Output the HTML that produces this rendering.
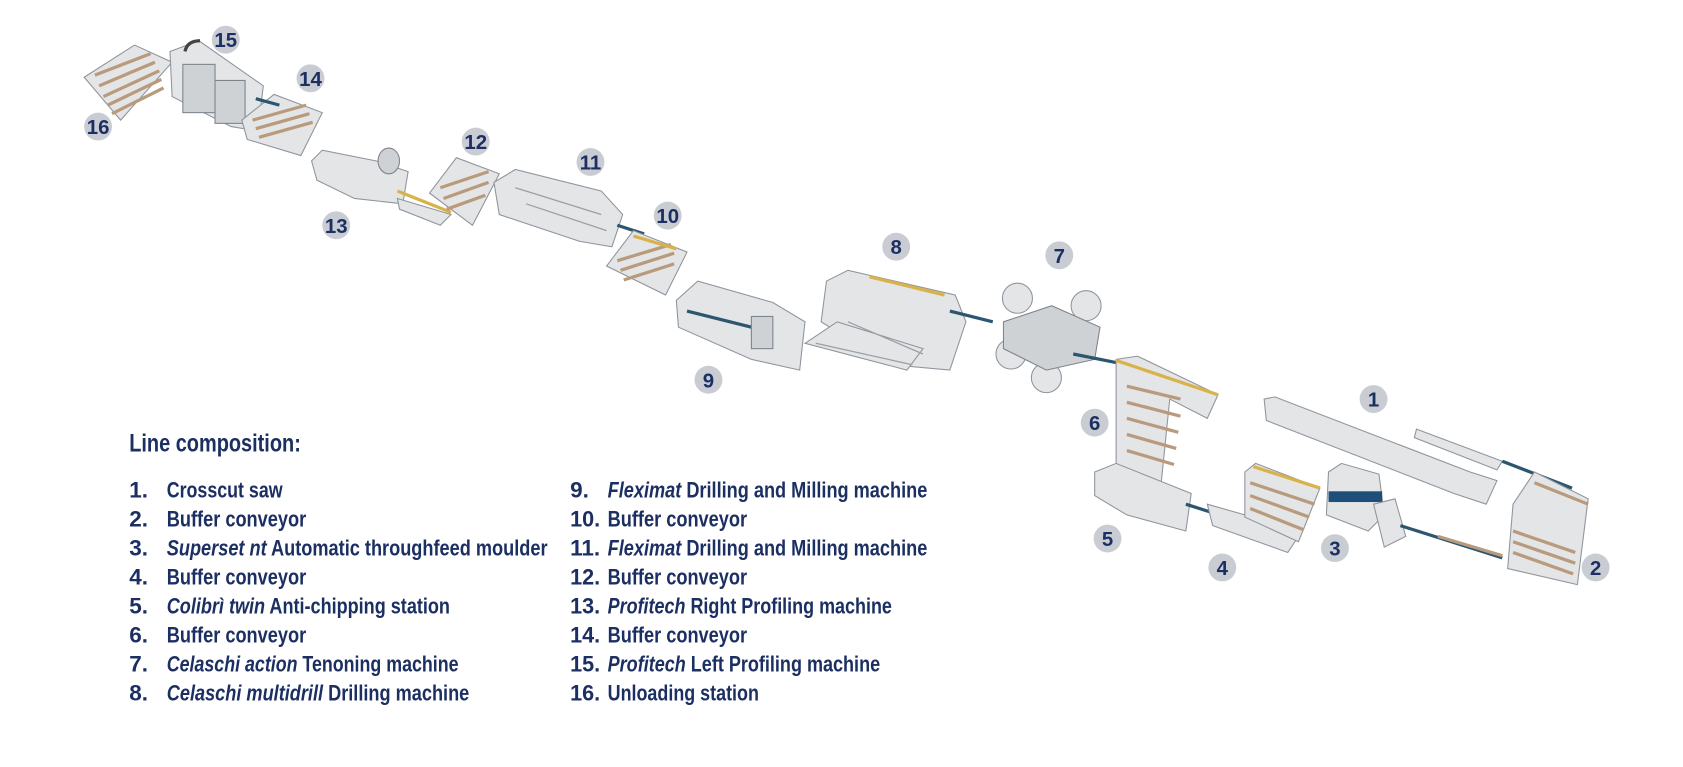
<!DOCTYPE html>
<html><head><meta charset="utf-8"><style>
html,body{margin:0;padding:0;background:#fff;width:1683px;height:767px;overflow:hidden}
svg{display:block}
.b{fill:#c9ccd2}
.n{font-family:"Liberation Sans Narrow","Liberation Sans",sans-serif;font-weight:bold;fill:#1c2f63;font-size:19px;text-anchor:middle}
.t text{font-family:"Liberation Sans",sans-serif;font-weight:bold;fill:#1c2f63;font-size:21px}
.h{font-family:"Liberation Sans",sans-serif;font-weight:bold;fill:#1c2f63;font-size:23px}
.m{fill:#e4e5e7;stroke:#8f959c;stroke-width:1}
.d{fill:#cfd2d5;stroke:#7d848c;stroke-width:1}
.s{stroke:#b89a7c;stroke-width:3}
.g{stroke:#9aa0a6;stroke-width:1.2;fill:none}
.y{stroke:#d9b24a;stroke-width:3}
.k{stroke:#2c5670;stroke-width:3}
</style></head><body>
<svg width="1683" height="767" viewBox="0 0 1568 715" xmlns="http://www.w3.org/2000/svg">
<!-- 16 -->
<polygon class="m" points="78,72 125,42 160,58 112,112"/>
<g class="s"><line x1="88" y1="70" x2="140" y2="50"/><line x1="92" y1="80" x2="144" y2="58"/><line x1="96" y1="90" x2="148" y2="66"/><line x1="100" y1="98" x2="150" y2="74"/><line x1="104" y1="106" x2="152" y2="82"/></g>
<!-- 15 -->
<polygon class="m" points="158,48 185,38 245,80 240,122 215,118 160,90"/>
<rect class="d" x="170" y="60" width="30" height="45"/><rect class="d" x="200" y="75" width="28" height="40"/>
<path d="M172 48 q2-10 14-10" class="g" style="stroke:#444;stroke-width:3"/>
<!-- 14 -->
<polygon class="m" points="225,112 255,88 300,105 280,145 230,130"/>
<g class="s"><line x1="235" y1="112" x2="285" y2="98"/><line x1="238" y1="120" x2="288" y2="106"/><line x1="241" y1="128" x2="291" y2="114"/></g>
<line class="k" x1="238" y1="92" x2="260" y2="98"/>
<!-- 13 -->
<polygon class="m" points="290,150 300,140 350,150 380,160 375,190 330,185 295,168"/>
<ellipse class="d" cx="362" cy="150" rx="10" ry="12"/>
<line class="y" x1="370" y1="178" x2="420" y2="198"/>
<polygon class="m" points="370,185 420,200 410,210 372,195"/>
<!-- 12 -->
<polygon class="m" points="400,180 425,147 465,162 440,210"/>
<g class="s"><line x1="410" y1="175" x2="455" y2="160"/><line x1="413" y1="185" x2="455" y2="170"/><line x1="416" y1="195" x2="452" y2="182"/></g>
<!-- 11 -->
<polygon class="m" points="460,170 480,158 560,178 580,200 570,230 540,225 465,200"/>
<g class="g"><line x1="480" y1="175" x2="560" y2="200"/><line x1="490" y1="190" x2="565" y2="215"/></g>
<line class="k" x1="575" y1="210" x2="600" y2="218"/>
<!-- 10 -->
<polygon class="m" points="565,248 590,215 640,235 620,275"/>
<g class="s"><line x1="575" y1="243" x2="625" y2="228"/><line x1="578" y1="252" x2="628" y2="236"/><line x1="581" y1="261" x2="628" y2="246"/></g>
<line class="y" x1="590" y1="220" x2="630" y2="232"/>
<!-- 9 -->
<polygon class="m" points="630,280 650,262 720,282 750,300 745,345 700,335 632,305"/>
<line class="k" x1="640" y1="290" x2="720" y2="310"/>
<rect class="d" x="700" y="295" width="20" height="30"/>
<!-- 8 -->
<polygon class="m" points="770,262 790,252 890,275 900,300 885,345 830,340 765,300"/>
<polygon class="m" points="750,320 780,300 860,325 845,345"/>
<g class="g"><line x1="760" y1="320" x2="850" y2="340"/><line x1="790" y1="300" x2="860" y2="330"/></g>
<line class="y" x1="810" y1="258" x2="880" y2="275"/>
<line class="k" x1="885" y1="290" x2="925" y2="300"/>
<!-- 7 -->
<circle class="m" cx="948" cy="278" r="14"/><circle class="m" cx="1012" cy="285" r="14"/>
<circle class="m" cx="942" cy="330" r="14"/><circle class="m" cx="975" cy="352" r="14"/>
<polygon class="d" points="935,300 980,285 1025,305 1020,335 975,345 935,325"/>
<!-- 6 -->
<line class="k" x1="1000" y1="330" x2="1040" y2="338"/>
<polygon class="m" points="1040,335 1060,332 1135,368 1125,390 1090,372 1080,470 1040,440"/>
<g class="s"><line x1="1050" y1="360" x2="1100" y2="372"/><line x1="1050" y1="375" x2="1100" y2="388"/><line x1="1050" y1="390" x2="1098" y2="403"/><line x1="1050" y1="405" x2="1096" y2="418"/><line x1="1050" y1="420" x2="1094" y2="433"/></g>
<line class="y" x1="1040" y1="336" x2="1135" y2="368"/>
<!-- 5 -->
<polygon class="m" points="1020,440 1040,432 1110,460 1105,495 1050,480 1020,462"/>
<!-- 4 -->
<line class="k" x1="1105" y1="470" x2="1130" y2="478"/>
<polygon class="m" points="1125,470 1160,480 1210,500 1200,515 1130,490"/>
<polygon class="m" points="1160,440 1170,432 1230,455 1210,505 1160,482"/>
<g class="s"><line x1="1165" y1="450" x2="1225" y2="470"/><line x1="1165" y1="462" x2="1220" y2="482"/><line x1="1165" y1="474" x2="1215" y2="494"/></g>
<line class="y" x1="1168" y1="435" x2="1230" y2="455"/>
<!-- 3 -->
<polygon class="m" points="1238,440 1250,432 1285,442 1290,480 1275,495 1236,480"/>
<rect x="1238" y="458" width="50" height="10" fill="#1e4e7a"/>
<polygon class="m" points="1280,470 1300,465 1310,500 1290,510"/>
<line class="k" x1="1305" y1="490" x2="1400" y2="520"/>
<line class="s" x1="1340" y1="500" x2="1400" y2="518"/>
<!-- 1 -->
<polygon class="m" points="1178,372 1188,370 1370,440 1395,448 1385,470 1355,460 1180,392"/>
<polygon class="m" points="1320,400 1400,430 1395,438 1318,408"/>
<line class="k" x1="1400" y1="430" x2="1465" y2="455"/>
<!-- 2 -->
<polygon class="m" points="1410,470 1430,440 1480,465 1470,545 1405,530"/>
<g class="s"><line x1="1410" y1="495" x2="1468" y2="515"/><line x1="1410" y1="505" x2="1468" y2="525"/><line x1="1410" y1="515" x2="1466" y2="535"/><line x1="1430" y1="450" x2="1480" y2="470"/></g>
<!-- badges -->
<g>
<circle class="b" cx="210" cy="37" r="13"/><text class="n" x="210" y="44">15</text>
<circle class="b" cx="289" cy="73" r="13"/><text class="n" x="289" y="80">14</text>
<circle class="b" cx="91" cy="118" r="13"/><text class="n" x="91" y="125">16</text>
<circle class="b" cx="443" cy="132" r="13"/><text class="n" x="443" y="139">12</text>
<circle class="b" cx="550" cy="151" r="13"/><text class="n" x="550" y="158">11</text>
<circle class="b" cx="313" cy="210" r="13"/><text class="n" x="313" y="217">13</text>
<circle class="b" cx="622" cy="201" r="13"/><text class="n" x="622" y="208">10</text>
<circle class="b" cx="835" cy="230" r="13"/><text class="n" x="835" y="237">8</text>
<circle class="b" cx="987" cy="238" r="13"/><text class="n" x="987" y="245">7</text>
<circle class="b" cx="660" cy="354" r="13"/><text class="n" x="660" y="361">9</text>
<circle class="b" cx="1280" cy="372" r="13"/><text class="n" x="1280" y="379">1</text>
<circle class="b" cx="1020" cy="394" r="13"/><text class="n" x="1020" y="401">6</text>
<circle class="b" cx="1032" cy="502" r="13"/><text class="n" x="1032" y="509">5</text>
<circle class="b" cx="1244" cy="511" r="13"/><text class="n" x="1244" y="518">3</text>
<circle class="b" cx="1139" cy="529" r="13"/><text class="n" x="1139" y="536">4</text>
<circle class="b" cx="1487" cy="529" r="13"/><text class="n" x="1487" y="536">2</text>
</g>
<!-- legend -->
<text class="h" x="120" y="421" textLength="160" lengthAdjust="spacingAndGlyphs">Line composition:</text>
<g class="t">
<text x="120" y="464">1.</text><text x="155" y="464" textLength="108" lengthAdjust="spacingAndGlyphs">Crosscut saw</text>
<text x="120" y="491">2.</text><text x="155" y="491" textLength="130" lengthAdjust="spacingAndGlyphs">Buffer conveyor</text>
<text x="120" y="518">3.</text><text x="155" y="518" textLength="355" lengthAdjust="spacingAndGlyphs"><tspan font-style="italic">Superset nt</tspan> Automatic throughfeed moulder</text>
<text x="120" y="545">4.</text><text x="155" y="545" textLength="130" lengthAdjust="spacingAndGlyphs">Buffer conveyor</text>
<text x="120" y="572">5.</text><text x="155" y="572" textLength="264" lengthAdjust="spacingAndGlyphs"><tspan font-style="italic">Colibrì twin</tspan> Anti-chipping station</text>
<text x="120" y="599">6.</text><text x="155" y="599" textLength="130" lengthAdjust="spacingAndGlyphs">Buffer conveyor</text>
<text x="120" y="626">7.</text><text x="155" y="626" textLength="272" lengthAdjust="spacingAndGlyphs"><tspan font-style="italic">Celaschi action</tspan> Tenoning machine</text>
<text x="120" y="653">8.</text><text x="155" y="653" textLength="282" lengthAdjust="spacingAndGlyphs"><tspan font-style="italic">Celaschi multidrill</tspan> Drilling machine</text>
<text x="531" y="464">9.</text><text x="566" y="464" textLength="298" lengthAdjust="spacingAndGlyphs"><tspan font-style="italic">Fleximat</tspan> Drilling and Milling machine</text>
<text x="531" y="491" textLength="28" lengthAdjust="spacingAndGlyphs">10.</text><text x="566" y="491" textLength="130" lengthAdjust="spacingAndGlyphs">Buffer conveyor</text>
<text x="531" y="518" textLength="28" lengthAdjust="spacingAndGlyphs">11.</text><text x="566" y="518" textLength="298" lengthAdjust="spacingAndGlyphs"><tspan font-style="italic">Fleximat</tspan> Drilling and Milling machine</text>
<text x="531" y="545" textLength="28" lengthAdjust="spacingAndGlyphs">12.</text><text x="566" y="545" textLength="130" lengthAdjust="spacingAndGlyphs">Buffer conveyor</text>
<text x="531" y="572" textLength="28" lengthAdjust="spacingAndGlyphs">13.</text><text x="566" y="572" textLength="265" lengthAdjust="spacingAndGlyphs"><tspan font-style="italic">Profitech</tspan> Right Profiling machine</text>
<text x="531" y="599" textLength="28" lengthAdjust="spacingAndGlyphs">14.</text><text x="566" y="599" textLength="130" lengthAdjust="spacingAndGlyphs">Buffer conveyor</text>
<text x="531" y="626" textLength="28" lengthAdjust="spacingAndGlyphs">15.</text><text x="566" y="626" textLength="254" lengthAdjust="spacingAndGlyphs"><tspan font-style="italic">Profitech</tspan> Left Profiling machine</text>
<text x="531" y="653" textLength="28" lengthAdjust="spacingAndGlyphs">16.</text><text x="566" y="653" textLength="141" lengthAdjust="spacingAndGlyphs">Unloading station</text>
</g>
</svg>
</body></html>
